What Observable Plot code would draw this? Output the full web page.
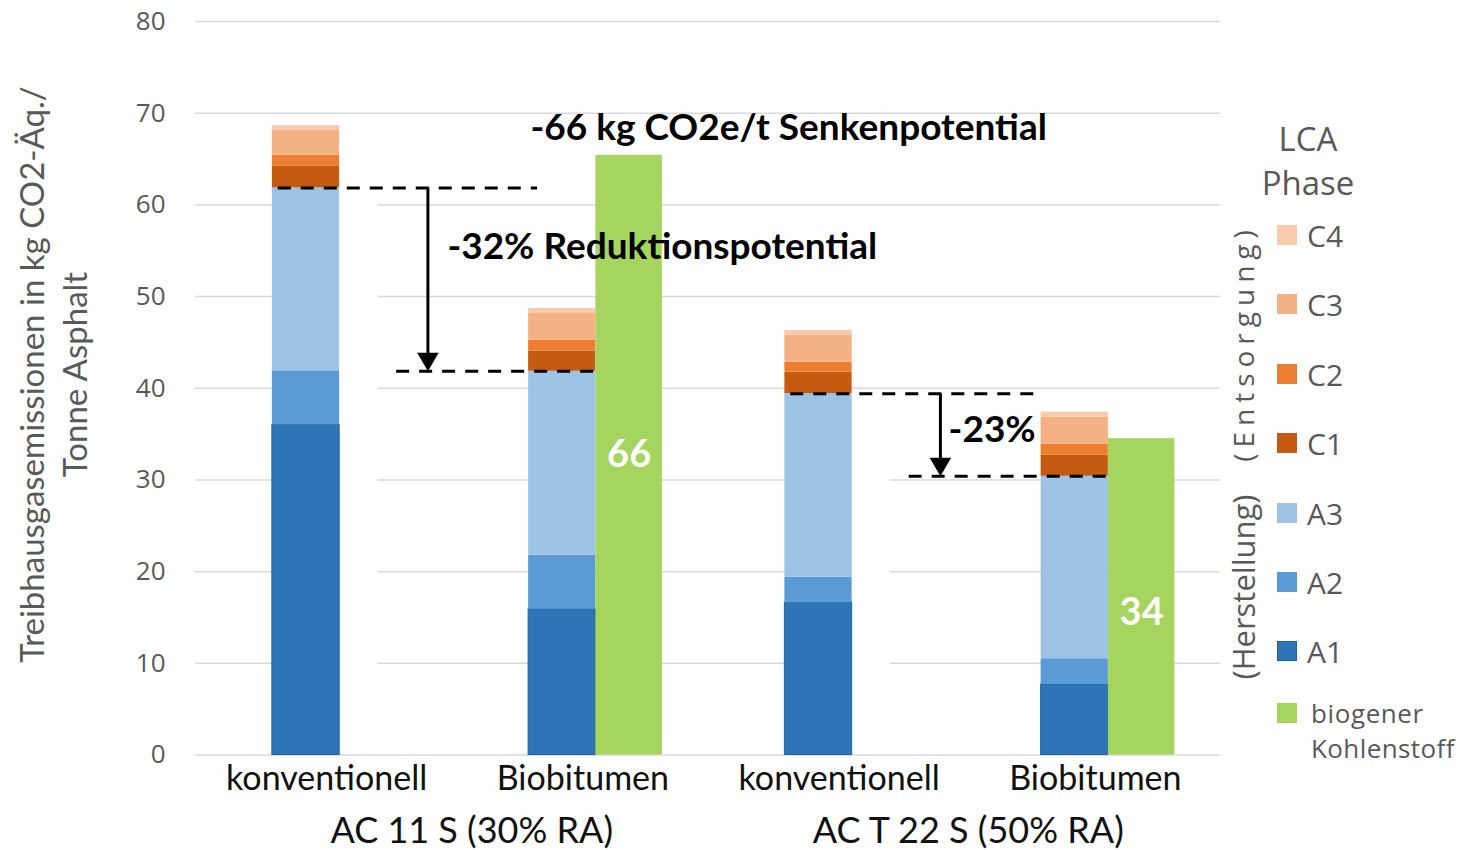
<!DOCTYPE html>
<html><head><meta charset="utf-8">
<script src="https://cdn.jsdelivr.net/npm/d3@7"></script>
<script src="https://cdn.jsdelivr.net/npm/@observablehq/plot@0.6"></script>
<style>
body{margin:0;background:#fff;}
#wrap{position:relative;width:1460px;height:850px;overflow:hidden;}
#chart{position:absolute;left:0;top:0;}
#legend{position:absolute;left:1225px;top:0;width:235px;height:850px;font-family:"Open Sans",sans-serif;color:#595959;}
.lt{position:absolute;width:120px;left:23px;text-align:center;font-size:33px;line-height:44px;}
.item{position:absolute;left:52px;height:30px;display:flex;align-items:center;font-size:30px;}
.sw{width:20px;height:20px;margin-right:10px;box-sizing:border-box;}
.rot{position:absolute;transform:translate(-50%,-50%) rotate(-90deg);white-space:nowrap;font-size:28px;}
</style></head>
<body><div id="wrap"><div id="chart"></div><div id="legend"></div></div>
<script>
// ---- data ----
const categories = ["konventionell", "Biobitumen", "konventionell", "Biobitumen"];
const groups = ["AC 11 S (30% RA)", "AC T 22 S (50% RA)"];
const phases = ["A1", "A2", "A3", "C1", "C2", "C3", "C4"];
const A1 = [36.0, 15.9, 16.6, 7.7];
const A2 = [5.9, 5.9, 2.8, 2.8];
const A3 = [19.95, 20.05, 20.0, 19.9];
const C1 = [2.35, 2.2, 2.35, 2.3];
const C2 = [1.2, 1.2, 1.1, 1.2];
const C3 = [2.7, 2.9, 2.9, 2.95];
const C4 = [0.55, 0.55, 0.55, 0.55];
const biogenic = [null, 65.4, null, 34.5];
const biogenicLabels = ["", "66", "", "34"];
const yTicks = [0, 10, 20, 30, 40, 50, 60, 70, 80];
const reductionLabels = ["-32% Reduktionspotential", "-23%"];
const reductionPairs = [[0, 1], [2, 3]];
const sinkLabel = "-66 kg CO2e/t Senkenpotential";
const yTitle = "Treibhausgasemissionen in kg CO2-Äq./\nTonne Asphalt";
const legendTitle = ["LCA", "Phase"];
const legendOrder = ["C4", "C3", "C2", "C1", "A3", "A2", "A1"];
const biogenicName = ["biogener", "Kohlenstoff"];
const legendGroups = ["(Entsorgung)", "(Herstellung)"];

// ---- styles / layout ----
const colors = {A1: "#2E75B6", A2: "#5B9BD5", A3: "#9DC3E6", C1: "#C55A11", C2: "#ED7D31", C3: "#F4B183", C4: "#F8CBAD"};
const green = "#A5D55F";
const BAR_L = 0.30, BAR_R = 0.5625, GREEN_R = 0.822;
const serif = "Lato, 'Open Sans', sans-serif";
const labelFrac = [0.5, 0.45];
const redTextDy = [-6.5, -4.0];
const redTextDx = [0.983, 0.939];
const redLineEnd = [1.335, 1.29];
const groupDx = [20, 4];

const values = {A1, A2, A3, C1, C2, C3, C4};
const stacked = [];
categories.forEach((c, i) => {
  let acc = 0;
  phases.forEach(p => {
    const v = values[p][i];
    stacked.push({i, phase: p, y1: acc, y2: acc + v});
    acc += v;
  });
});
const greens = biogenic.map((v, i) => ({i, v, label: biogenicLabels[i]})).filter(d => d.v != null);
const prodTop = categories.map((c, i) => A1[i] + A2[i] + A3[i]);
const red = reductionPairs.map(([a, b], k) => ({a, b, k, top: prodTop[a], bot: prodTop[b], label: reductionLabels[k]}));
const grp = groups.map((g, k) => ({g, k}));

const chart = Plot.plot({
  width: 1225, height: 850,
  marginLeft: 195, marginRight: 5, marginTop: 21, marginBottom: 95.5,
  x: {domain: [0, 4], axis: null},
  y: {domain: [0, 80], axis: null},
  marks: [
    Plot.ruleY(yTicks, {stroke: "#d9d9d9", strokeWidth: 1.5}),
    Plot.rectY(red, {x1: d => d.a + BAR_R, x2: d => d.a + 0.713, y1: 0.15, y2: "top", fill: "white"}),
    Plot.text(yTicks, {x: 0, y: d => d, dx: -30, textAnchor: "end", fontSize: 26, fill: "#595959", fontFamily: "'Open Sans', sans-serif"}),
    Plot.rectY(stacked, {x1: d => d.i + BAR_L, x2: d => d.i + BAR_R, y1: "y1", y2: "y2", fill: d => colors[d.phase],
      stroke: d => d.phase === "A1" ? "#25609a" : "none", strokeWidth: 1}),
    Plot.rectY(greens, {x1: d => d.i + BAR_R, x2: d => d.i + GREEN_R, y1: 0, y2: "v", fill: green}),
    Plot.text(greens, {x: d => d.i + (BAR_R + GREEN_R) / 2, y: (d, k) => d.v * labelFrac[k], text: "label", fill: "white", fontWeight: "bold", fontSize: 38, fontFamily: serif}),
    // reduction annotations
    Plot.ruleY(red, {x1: d => d.a + 0.323, x2: d => d.a + redLineEnd[d.k], y: "top", stroke: "black", strokeWidth: 3, strokeDasharray: "13,10"}),
    Plot.ruleY(red, {x1: d => d.a + 0.785, x2: d => d.b + BAR_R, y: "bot", stroke: "black", strokeWidth: 3, strokeDasharray: "13,10"}),
    Plot.ruleX(red, {x: d => d.a + 0.907, y1: "top", y2: d => d.bot + 1.3, stroke: "black", strokeWidth: 3}),
    Plot.dot(red, {x: d => d.a + 0.907, y: "bot", symbol: "triangle", r: 8, rotate: 180, fill: "black", dy: -12.4}),
    Plot.text(red, {x: d => d.a + redTextDx[d.k], y: d => d.top + redTextDy[d.k], text: "label", textAnchor: "start", fontWeight: "bold", fontSize: 37, fill: "black", fontFamily: serif}),
    Plot.text([sinkLabel], {x: 1.307, y: 68.4, text: d => d, textAnchor: "start", fontWeight: "bold", fontSize: 37, fill: "black", fontFamily: serif}),
    // category labels
    Plot.text(categories, {x: (d, i) => i + 0.5, y: 0, dy: 24, dx: 3, text: d => d, fontSize: 34, fill: "#111", fontFamily: serif}),
    Plot.text(grp, {x: d => 2 * d.k + 1 + groupDx[d.k] / 256.25, y: 0, dy: 76, text: "g", fontSize: 36, fill: "#111", fontFamily: serif}),
    Plot.text([yTitle], {x: 0, y: 41.5, dx: -143.5, text: d => d, rotate: -90, fontSize: 33, lineHeight: 1.3, fill: "#595959", fontFamily: serif})
  ]
});
document.getElementById("chart").appendChild(chart);

// ---- legend ----
const lg = document.getElementById("legend");
let html = `<div class="lt" style="top:117px">${legendTitle[0]}</div><div class="lt" style="top:161px">${legendTitle[1]}</div>`;
const itemY = [235, 304, 374, 443, 513, 582, 651];
legendOrder.forEach((p, k) => {
  const st = p === "A1" ? `background:${colors[p]};border:1px solid #25609a` : `background:${colors[p]}`;
  html += `<div class="item" style="top:${itemY[k] - 15}px"><div class="sw" style="${st}"></div>${p}</div>`;
});
html += `<div class="item" style="top:698px"><div class="sw" style="background:${green};margin-right:14px"></div><span style="font-size:26px;letter-spacing:0.6px">${biogenicName[0]}</span></div>`;
html += `<div style="position:absolute;left:86px;top:730px;font-size:26px;letter-spacing:0.4px">${biogenicName[1]}</div>`;
html += `<div class="rot" style="left:18px;top:343px;letter-spacing:6px">${legendGroups[0]}</div>`;
html += `<div class="rot" style="left:18px;top:587px;font-size:31px">${legendGroups[1]}</div>`;
lg.innerHTML = html;
</script></body></html>
